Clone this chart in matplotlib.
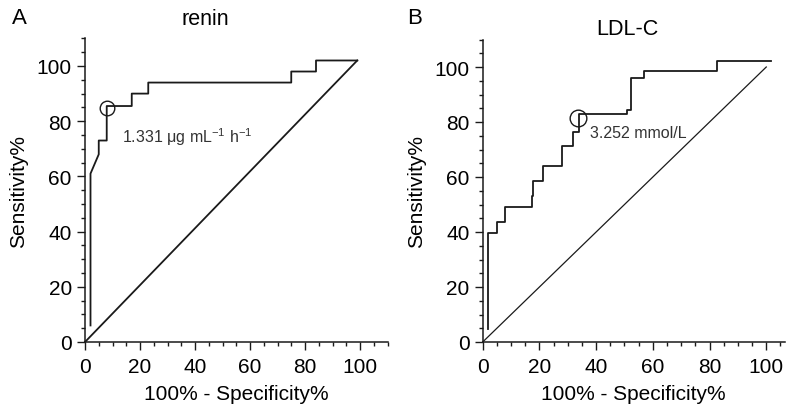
import numpy as np
import matplotlib
matplotlib.use("Agg")
import matplotlib.pyplot as plt
from matplotlib.ticker import MultipleLocator

plt.rcParams['font.family'] = ['Liberation Sans', 'DejaVu Sans']
plt.rcParams['mathtext.fontset'] = 'custom'
plt.rcParams['mathtext.rm'] = 'Liberation Sans'
plt.rcParams['mathtext.it'] = 'Liberation Sans'

# panel A: renin ROC
renin_x = [2, 2, 5, 5, 7.9, 7.9, 17, 17, 23, 23, 75, 75, 84, 84, 99]
renin_y = [6, 61, 68, 73, 73, 85.5, 85.5, 90, 90, 94, 94, 98, 98, 102, 102]
renin_ref_x = [0, 99]
renin_ref_y = [0, 102]
renin_cut = (7.9, 84.8)
renin_label = r'1.331 μg mL$^{-1}$ h$^{-1}$'

# panel B: LDL-C ROC
ldl_x = [1.8, 1.8, 4.9, 4.9, 7.9, 7.9, 17.3, 17.3, 17.9, 17.9, 21.2, 21.2, 27.9, 27.9,
         32.0, 32.0, 34.1, 34.1, 51.0, 51.0, 52.3, 52.3, 57.0, 57.0, 82.5, 82.5, 101.7]
ldl_y = [4.7, 39.6, 39.6, 43.6, 43.6, 49.2, 49.2, 53.2, 53.2, 58.7, 58.7, 64.1, 64.1, 71.4,
         71.4, 76.5, 76.5, 82.9, 82.9, 84.4, 84.4, 95.9, 95.9, 98.4, 98.4, 102.3, 102.3]
ldl_ref_x = [0, 100]
ldl_ref_y = [0, 100]
ldl_cut = (33.7, 81.3)
ldl_label = '3.252 mmol/L'

col = '#1a1a1a'
W, H = 791, 410
fig = plt.figure(figsize=(W / 100, H / 100), dpi=100)

axA = fig.add_axes([85 / W, 67 / H, 302.5 / W, 303.6 / H])
axB = fig.add_axes([482.7 / W, 67 / H, 302 / W, 302.5 / H])


def style(ax, xmax):
    ax.set_xlim(0, xmax)
    ax.set_ylim(0, 110)
    for s in ['top', 'right']:
        ax.spines[s].set_visible(False)
    for s in ['left', 'bottom']:
        ax.spines[s].set_linewidth(1.1)
        ax.spines[s].set_color(col)
    ax.xaxis.set_major_locator(MultipleLocator(20))
    ax.xaxis.set_minor_locator(MultipleLocator(5))
    ax.yaxis.set_major_locator(MultipleLocator(20))
    ax.yaxis.set_minor_locator(MultipleLocator(5))
    ax.set_xticks([0, 20, 40, 60, 80, 100])
    ax.set_yticks([0, 20, 40, 60, 80, 100])
    ax.tick_params(which='major', length=5.5, width=1.0, color=col, labelsize=15, pad=4)
    ax.tick_params(which='minor', length=3.2, width=1.0, color=col)
    ax.tick_params(axis='x', pad=5)
    ax.set_xlabel('100% - Specificity%', fontsize=15, labelpad=6)
    ax.set_ylabel('Sensitivity%', fontsize=15, labelpad=6)


style(axA, 110)
style(axB, 106.5)

axA.plot(renin_x, renin_y, color=col, lw=1.3, clip_on=False)
axA.plot(renin_ref_x, renin_ref_y, color=col, lw=1.3, clip_on=False)
axA.plot([renin_cut[0]], [renin_cut[1]], 'o', mfc='none', mec=col, ms=10.5, mew=1.0, clip_on=False)
axA.text(13.5, 74.6, renin_label, fontsize=11.5, color='#333333', va='center', ha='left')

axB.plot(ldl_x, ldl_y, color=col, lw=1.3, clip_on=False)
axB.plot(ldl_ref_x, ldl_ref_y, color=col, lw=0.9, clip_on=False)
axB.plot([ldl_cut[0]], [ldl_cut[1]], 'o', mfc='none', mec=col, ms=12, mew=1.0, clip_on=False)
axB.text(37.9, 76.2, ldl_label, fontsize=11.5, color='#333333', va='center', ha='left')

fig.text(19.5 / W, 1 - 24 / H, 'A', fontsize=16, ha='center', va='baseline')
fig.text(415 / W, 1 - 24 / H, 'B', fontsize=16, ha='center', va='baseline')
fig.text(205 / W, 1 - 25 / H, 'renin', fontsize=15.5, ha='center', va='baseline')
fig.text(627 / W, 1 - 35 / H, 'LDL-C', fontsize=15.5, ha='center', va='baseline')

fig.savefig('out.png', dpi=100)
